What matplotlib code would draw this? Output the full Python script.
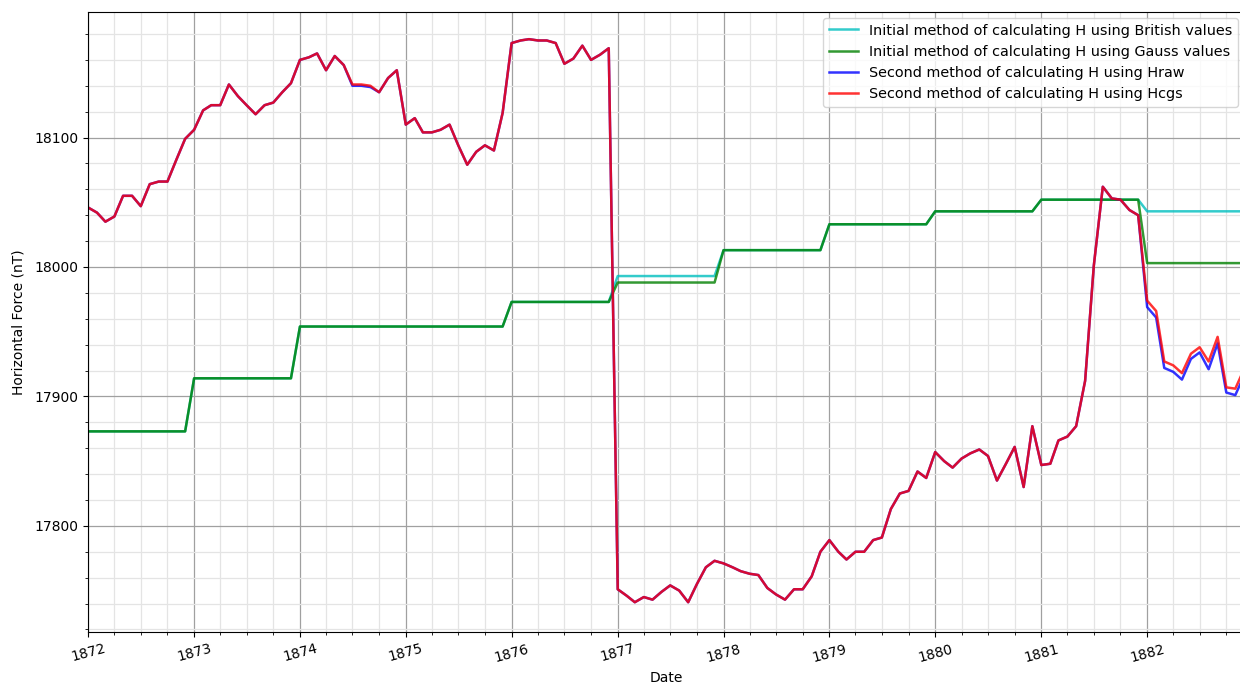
import matplotlib
matplotlib.use("Agg")
import matplotlib.dates as mdates
import matplotlib.pyplot as plt
import numpy as np
import pandas as pd

# monthly dates, Jan 1872 .. Dec 1882
dates = pd.date_range("1872-01-01", "1882-12-01", freq="MS")
years = list(range(1872, 1883))

# yearly values of the initial method (constant within each year)
h_british_yearly = [17873, 17914, 17954, 17954, 17973, 17993, 18013, 18033, 18043, 18052, 18043]
h_gauss_yearly = [17873, 17914, 17954, 17954, 17973, 17988, 18013, 18033, 18043, 18052, 18003]

# monthly values of the second method
h_cgs = [
    18046, 18042, 18035, 18039, 18055, 18055, 18047, 18064, 18066, 18066, 18083, 18099,  # 1872
    18106, 18121, 18125, 18125, 18141, 18132, 18125, 18118, 18125, 18127, 18135, 18142,  # 1873
    18160, 18162, 18165, 18152, 18163, 18156, 18141, 18141, 18140, 18135, 18146, 18152,  # 1874
    18110, 18115, 18104, 18104, 18106, 18110, 18094, 18079, 18089, 18094, 18090, 18119,  # 1875
    18173, 18175, 18176, 18175, 18175, 18173, 18157, 18161, 18171, 18160, 18164, 18169,  # 1876
    17751, 17746, 17741, 17745, 17743, 17749, 17754, 17750, 17741, 17755, 17768, 17773,  # 1877
    17771, 17768, 17765, 17763, 17762, 17752, 17747, 17743, 17751, 17751, 17761, 17780,  # 1878
    17789, 17780, 17774, 17780, 17780, 17789, 17791, 17813, 17825, 17827, 17842, 17837,  # 1879
    17857, 17850, 17845, 17852, 17856, 17859, 17854, 17835, 17848, 17861, 17830, 17877,  # 1880
    17847, 17848, 17866, 17869, 17877, 17912, 18001, 18062, 18053, 18052, 18044, 18040,  # 1881
    17974, 17966, 17927, 17924, 17918, 17933, 17938, 17927, 17946, 17907, 17906, 17921,  # 1882
]
h_raw = [
    18046, 18042, 18035, 18039, 18055, 18055, 18047, 18064, 18066, 18066, 18083, 18099,
    18106, 18121, 18125, 18125, 18141, 18132, 18125, 18118, 18125, 18127, 18135, 18142,
    18160, 18162, 18165, 18152, 18163, 18156, 18140, 18140, 18139, 18135, 18146, 18152,
    18110, 18115, 18104, 18104, 18106, 18110, 18094, 18079, 18089, 18094, 18090, 18119,
    18173, 18175, 18176, 18175, 18175, 18173, 18157, 18161, 18171, 18160, 18164, 18169,
    17751, 17746, 17741, 17745, 17743, 17749, 17754, 17750, 17741, 17755, 17768, 17773,
    17771, 17768, 17765, 17763, 17762, 17752, 17747, 17743, 17751, 17751, 17761, 17780,
    17789, 17780, 17774, 17780, 17780, 17789, 17791, 17813, 17825, 17827, 17842, 17837,
    17857, 17850, 17845, 17852, 17856, 17859, 17854, 17835, 17848, 17861, 17830, 17877,
    17847, 17848, 17866, 17869, 17877, 17912, 18001, 18062, 18053, 18052, 18044, 18040,
    17969, 17961, 17922, 17919, 17913, 17929, 17934, 17921, 17941, 17903, 17901, 17916,
]

h_british = np.repeat(h_british_yearly, 12)
h_gauss = np.repeat(h_gauss_yearly, 12)

fig = plt.figure(figsize=(12.4, 6.84), dpi=100)
ax = fig.add_axes([88 / 1240, 52 / 684, 1156 / 1240, 620 / 684])

ax.plot(dates, h_british, color="c", alpha=0.8, lw=1.8,
        label="Initial method of calculating H using British values")
ax.plot(dates, h_gauss, color="g", alpha=0.8, lw=1.8,
        label="Initial method of calculating H using Gauss values")
ax.plot(dates, h_raw, color="b", alpha=0.8, lw=1.8,
        label="Second method of calculating H using Hraw")
ax.plot(dates, h_cgs, color="r", alpha=0.8, lw=1.8,
        label="Second method of calculating H using Hcgs")

ax.set_xlim(dates[0], dates[-1])
ax.set_ylim(17718, 18197)

ax.xaxis.set_major_locator(mdates.YearLocator())
ax.xaxis.set_major_formatter(mdates.DateFormatter("%Y"))
ax.xaxis.set_minor_locator(mdates.MonthLocator(bymonth=[1, 4, 7, 10]))
ax.yaxis.set_major_locator(plt.MultipleLocator(100))
ax.yaxis.set_minor_locator(plt.MultipleLocator(20))

ax.grid(which="major", color="#a0a0a0", lw=0.9)
ax.grid(which="minor", color="#e4e4e4", lw=0.9)
ax.set_axisbelow(True)

for lbl in ax.get_xticklabels():
    lbl.set_rotation(15)

ax.set_xlabel("Date", labelpad=5)
ax.set_ylabel("Horizontal Force (nT)", labelpad=6)
ax.legend(loc="upper right", fontsize=10.4, borderaxespad=0.4)

fig.savefig("out.png", dpi=100)
